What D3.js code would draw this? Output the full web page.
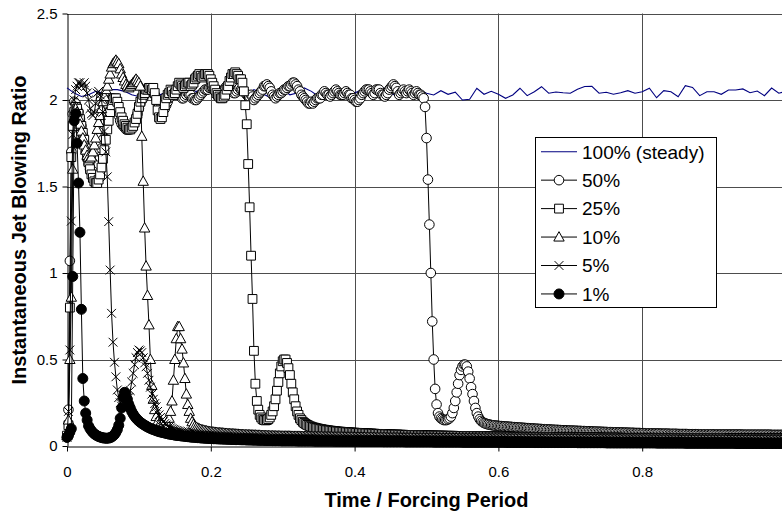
<!DOCTYPE html>
<html><head><meta charset="utf-8">
<script src="https://cdn.jsdelivr.net/npm/d3@7"></script>
<style>html,body{margin:0;padding:0;background:#fff;overflow:hidden}</style>
</head><body><svg id="chart" width="782" height="514"></svg>
<script>
// ---------------- DATA ----------------
const seriesNames = ["100% (steady)", "50%", "25%", "10%", "5%", "1%"];
const xTicks = [0, 0.2, 0.4, 0.6, 0.8];
const yTicks = [0, 0.5, 1, 1.5, 2, 2.5];
const xTitle = "Time / Forcing Period";
const yTitle = "Instantaneous Jet Blowing Ratio";
const steadyStep = 0.01;   // time step of the steady series
const markerStep = 0.002;  // time step of the pulsed series

const steady = [
2.07,2.04,2.02,2.03,2.05,2.04,2.06,2.06,2.05,2.03,
2.02,2.04,2.06,2.03,2.05,2.07,2.04,2.03,2.05,2.06,
2.04,2.02,2.05,2.07,2.04,2.03,2.06,2.04,2.02,2.05,
2.06,2.03,2.04,2.07,2.05,2.02,2.04,2.06,2.03,2.05,
2.04,2.06,2.03,2.05,2.07,2.04,2.02,2.05,2.04,2.06,
2.039,2.029,2.054,2.033,2.045,2.0,2.004,2.068,2.033,2.05,
2.033,2.01,2.029,2.068,2.025,2.048,2.077,2.039,2.046,2.042,
2.039,2.062,2.078,2.079,2.039,2.045,2.033,2.042,2.054,2.039,
2.048,2.068,2.013,2.054,2.048,2.019,2.083,2.073,2.025,2.048,
2.048,2.033,2.058,2.058,2.064,2.042,2.052,2.025,2.069,2.039,
2.05];

const pulse50 = [
0.05,0.21,1.07,1.7,1.92,1.99,1.98,1.95,1.93,1.89,
1.85,1.8,1.75,1.7,1.66,1.63,1.6,1.58,1.57,1.57,
1.58,1.6,1.63,1.67,1.72,1.77,1.83,1.88,1.93,1.96,
1.99,2.01,2.01,1.99,1.97,1.94,1.91,1.88,1.86,1.85,
1.84,1.83,1.83,1.83,1.83,1.84,1.85,1.87,1.89,1.92,
1.95,1.98,2.0,2.01,2.03,2.04,2.05,2.06,2.06,2.06,
2.05,2.03,2.01,1.98,1.96,1.94,1.93,1.94,1.95,1.97,
1.99,2.01,2.02,2.03,2.03,2.04,2.05,2.03,2.03,2.02,
2.01,2.01,2.02,2.03,2.04,2.03,2.03,2.01,2.01,2.0,
2.0,2.01,2.02,2.03,2.04,2.05,2.06,2.06,2.06,2.07,
2.07,2.07,2.06,2.05,2.04,2.03,2.03,2.04,2.05,2.06,
2.07,2.08,2.08,2.07,2.06,2.05,2.04,2.04,2.05,2.06,
2.07,2.06,2.06,2.05,2.04,2.03,2.02,2.02,2.03,2.02,
2.0,2.01,2.02,2.03,2.04,2.05,2.06,2.08,2.08,2.09,
2.08,2.07,2.05,2.03,2.02,2.01,2.02,2.03,2.04,2.04,
2.05,2.06,2.06,2.07,2.08,2.08,2.09,2.1,2.1,2.09,
2.08,2.06,2.05,2.03,2.02,2.01,2.0,1.99,1.98,1.98,
1.99,1.98,1.99,2.0,2.01,2.01,2.01,2.03,2.03,2.05,
2.04,2.03,2.03,2.02,2.03,2.04,2.05,2.06,2.05,2.04,
2.03,2.03,2.03,2.04,2.05,2.04,2.03,2.03,2.01,2.01,
2.0,1.99,1.99,2.0,2.01,2.03,2.04,2.05,2.06,2.06,
2.06,2.05,2.04,2.03,2.04,2.06,2.06,2.06,2.04,2.03,
2.03,2.02,2.03,2.04,2.06,2.07,2.08,2.09,2.08,2.07,
2.05,2.03,2.04,2.05,2.06,2.05,2.04,2.05,2.06,2.05,
2.04,2.03,2.04,2.05,2.04,2.03,2.03,2.02,2.01,1.96,
1.78,1.54,1.28,1.0,0.72,0.5,0.33,0.24,0.19,0.17,
0.16,0.155,0.15,0.15,0.15,0.155,0.16,0.17,0.19,0.22,
0.26,0.31,0.36,0.41,0.44,0.46,0.47,0.47,0.46,0.43,
0.39,0.34,0.3,0.26,0.22,0.19,0.17,0.155,0.145,0.138,
0.133,0.13,0.127,0.125,0.123,0.121,0.12,0.119,0.118,0.117,
0.116,0.115,0.115,0.114,0.113,0.113,0.112,0.111,0.111,0.110,
0.109,0.109,0.108,0.107,0.107,0.106,0.106,0.105,0.104,0.104,
0.103,0.103,0.102,0.101,0.101,0.100,0.100,0.099,0.099,0.098,
0.098,0.097,0.097,0.096,0.096,0.095,0.095,0.094,0.094,0.093,
0.093,0.093,0.092,0.092,0.091,0.091,0.090,0.090,0.090,0.089,
0.089,0.089,0.088,0.088,0.088,0.087,0.087,0.087,0.086,0.086,
0.086,0.085,0.085,0.085,0.084,0.084,0.084,0.083,0.083,0.083,
0.082,0.082,0.082,0.081,0.081,0.081,0.080,0.080,0.080,0.080,
0.079,0.079,0.079,0.078,0.078,0.078,0.078,0.077,0.077,0.077,
0.077,0.076,0.076,0.076,0.076,0.075,0.075,0.075,0.075,0.074,
0.074,0.074,0.074,0.073,0.073,0.073,0.073,0.073,0.072,0.072,
0.072,0.072,0.072,0.071,0.071,0.071,0.071,0.071,0.071,0.070,
0.070,0.070,0.070,0.070,0.070,0.069,0.069,0.069,0.069,0.069,
0.069,0.069,0.068,0.068,0.068,0.068,0.068,0.068,0.068,0.068,
0.067,0.067,0.067,0.067,0.067,0.067,0.067,0.067,0.067,0.067,
0.066,0.066,0.066,0.066,0.066,0.066,0.066,0.066,0.066,0.066,
0.066,0.066,0.066,0.066,0.066,0.066,0.066,0.066,0.066,0.066,
0.065,0.065,0.065,0.065,0.065,0.065,0.065,0.065,0.065,0.065,
0.065,0.065,0.065,0.065,0.065,0.065,0.065,0.065,0.065,0.065,
0.064,0.064,0.064,0.064,0.064,0.064,0.064,0.064,0.064,0.064,
0.064];

const pulse25 = [
0.06,0.12,0.8,1.67,1.85,1.93,1.96,1.95,1.92,1.89,
1.85,1.81,1.77,1.72,1.68,1.64,1.6,1.57,1.55,1.53,
1.52,1.52,1.54,1.57,1.61,1.66,1.71,1.77,1.83,1.88,
1.93,1.97,2.0,2.01,2.01,1.99,1.96,1.93,1.9,1.88,
1.86,1.85,1.84,1.83,1.83,1.84,1.85,1.87,1.89,1.92,
1.96,1.99,2.01,2.03,2.04,2.06,2.06,2.07,2.07,2.06,
2.07,2.04,2.0,1.94,1.9,1.89,1.9,1.93,1.97,2.01,
2.03,2.04,2.06,2.05,2.03,2.04,2.06,2.08,2.1,2.09,
2.08,2.07,2.08,2.09,2.1,2.1,2.08,2.09,2.1,2.12,
2.13,2.14,2.15,2.14,2.13,2.14,2.15,2.15,2.15,2.14,
2.12,2.1,2.08,2.06,2.04,2.03,2.02,2.01,2.01,2.02,
2.03,2.06,2.08,2.11,2.13,2.15,2.15,2.16,2.15,2.14,
2.12,2.12,2.1,2.05,1.97,1.86,1.63,1.38,1.1,0.85,
0.55,0.36,0.26,0.21,0.18,0.165,0.155,0.15,0.148,0.15,
0.155,0.165,0.18,0.2,0.23,0.27,0.32,0.37,0.42,0.46,
0.49,0.5,0.5,0.48,0.45,0.41,0.36,0.31,0.27,0.23,
0.2,0.18,0.16,0.15,0.14,0.133,0.127,0.122,0.118,0.114,
0.111,0.108,0.106,0.104,0.102,0.1,0.098,0.097,0.095,0.094,
0.092,0.091,0.09,0.089,0.088,0.087,0.086,0.085,0.084,0.083,
0.083,0.082,0.081,0.081,0.08,0.079,0.079,0.078,0.078,0.077,
0.077,0.076,0.076,0.075,0.075,0.074,0.074,0.074,0.073,0.073,
0.072,0.072,0.072,0.071,0.071,0.070,0.070,0.070,0.069,0.069,
0.069,0.068,0.068,0.068,0.067,0.067,0.067,0.066,0.066,0.066,
0.066,0.065,0.065,0.065,0.065,0.064,0.064,0.064,0.064,0.063,
0.063,0.063,0.063,0.063,0.062,0.062,0.062,0.062,0.062,0.061,
0.061,0.061,0.061,0.061,0.061,0.061,0.060,0.060,0.060,0.060,
0.060,0.060,0.060,0.059,0.059,0.059,0.059,0.059,0.059,0.059,
0.058,0.058,0.058,0.058,0.058,0.058,0.058,0.057,0.057,0.057,
0.057,0.057,0.057,0.057,0.057,0.056,0.056,0.056,0.056,0.056,
0.056,0.056,0.056,0.055,0.055,0.055,0.055,0.055,0.055,0.055,
0.054,0.054,0.054,0.054,0.054,0.054,0.054,0.054,0.054,0.054,
0.053,0.053,0.053,0.053,0.053,0.053,0.053,0.053,0.053,0.053,
0.052,0.052,0.052,0.052,0.052,0.052,0.052,0.052,0.052,0.052,
0.051,0.051,0.051,0.051,0.051,0.051,0.051,0.051,0.051,0.051,
0.050,0.050,0.050,0.050,0.050,0.050,0.050,0.050,0.050,0.050,
0.050,0.050,0.050,0.050,0.050,0.050,0.050,0.050,0.050,0.050,
0.049,0.049,0.049,0.049,0.049,0.049,0.049,0.049,0.049,0.049,
0.049,0.049,0.048,0.048,0.048,0.048,0.048,0.048,0.048,0.048,
0.048,0.048,0.048,0.048,0.048,0.048,0.047,0.047,0.047,0.047,
0.047,0.047,0.047,0.047,0.047,0.047,0.047,0.047,0.047,0.047,
0.047,0.047,0.047,0.047,0.047,0.047,0.047,0.047,0.047,0.047,
0.046,0.046,0.046,0.046,0.046,0.046,0.046,0.046,0.046,0.046,
0.046,0.046,0.046,0.046,0.046,0.045,0.045,0.045,0.045,0.045,
0.045,0.045,0.045,0.045,0.045,0.045,0.045,0.045,0.045,0.045,
0.045,0.045,0.045,0.045,0.045,0.045,0.045,0.045,0.045,0.045,
0.045,0.045,0.045,0.045,0.045,0.045,0.045,0.045,0.045,0.045,
0.044,0.044,0.044,0.044,0.044,0.044,0.044,0.044,0.044,0.044,
0.044,0.044,0.044,0.044,0.044,0.044,0.044,0.044,0.044,0.044,
0.043,0.043,0.043,0.043,0.043,0.043,0.043,0.043,0.043,0.043,
0.043,0.043,0.043,0.043,0.043,0.043,0.043,0.043,0.043,0.043,
0.043];

const pulse10 = [
0.06,0.15,0.5,0.86,1.6,1.9,1.95,1.93,1.9,1.86,
1.82,1.78,1.74,1.71,1.68,1.67,1.66,1.67,1.7,1.74,
1.78,1.83,1.87,1.91,1.95,1.99,2.02,2.06,2.08,2.12,
2.15,2.19,2.21,2.22,2.23,2.22,2.21,2.18,2.15,2.13,
2.11,2.09,2.08,2.07,2.08,2.09,2.1,2.11,2.12,2.11,
2.1,2.08,1.79,1.53,1.26,1.04,0.87,0.7,0.5,0.35,
0.27,0.21,0.17,0.14,0.12,0.105,0.095,0.092,0.095,0.105,
0.125,0.16,0.2,0.26,0.38,0.5,0.62,0.69,0.69,0.62,
0.56,0.48,0.39,0.3,0.24,0.2,0.16,0.14,0.125,0.115,
0.108,0.103,0.099,0.096,0.093,0.091,0.089,0.087,0.085,0.083,
0.082,0.081,0.080,0.079,0.078,0.077,0.076,0.076,0.075,0.074,
0.073,0.073,0.072,0.071,0.071,0.070,0.070,0.069,0.068,0.068,
0.067,0.067,0.066,0.066,0.065,0.065,0.065,0.064,0.064,0.063,
0.063,0.063,0.062,0.062,0.062,0.061,0.061,0.061,0.060,0.060,
0.060,0.059,0.059,0.059,0.059,0.058,0.058,0.058,0.058,0.057,
0.057,0.057,0.057,0.057,0.057,0.057,0.056,0.056,0.056,0.056,
0.056,0.056,0.056,0.055,0.055,0.055,0.055,0.055,0.055,0.055,
0.054,0.054,0.054,0.054,0.054,0.054,0.054,0.054,0.053,0.053,
0.053,0.053,0.053,0.053,0.053,0.052,0.052,0.052,0.052,0.052,
0.052,0.052,0.052,0.051,0.051,0.051,0.051,0.051,0.051,0.051,
0.050,0.050,0.050,0.050,0.050,0.050,0.050,0.050,0.049,0.049,
0.049,0.049,0.049,0.049,0.048,0.048,0.048,0.048,0.048,0.048,
0.048,0.048,0.048,0.047,0.047,0.047,0.047,0.047,0.047,0.047,
0.047,0.046,0.046,0.046,0.046,0.046,0.046,0.046,0.046,0.046,
0.045,0.045,0.045,0.045,0.045,0.045,0.045,0.045,0.045,0.045,
0.045,0.045,0.045,0.045,0.045,0.045,0.044,0.044,0.044,0.044,
0.044,0.044,0.044,0.044,0.044,0.044,0.044,0.044,0.044,0.044,
0.044,0.044,0.043,0.043,0.043,0.043,0.043,0.043,0.043,0.043,
0.043,0.043,0.043,0.043,0.043,0.043,0.042,0.042,0.042,0.042,
0.042,0.042,0.042,0.042,0.042,0.042,0.042,0.042,0.042,0.042,
0.042,0.042,0.042,0.042,0.042,0.042,0.041,0.041,0.041,0.041,
0.041,0.041,0.041,0.041,0.041,0.041,0.041,0.041,0.041,0.041,
0.041,0.040,0.040,0.040,0.040,0.040,0.040,0.040,0.040,0.040,
0.040,0.040,0.040,0.040,0.040,0.040,0.039,0.039,0.039,0.039,
0.039,0.039,0.039,0.039,0.039,0.039,0.039,0.039,0.039,0.039,
0.039,0.039,0.039,0.039,0.039,0.038,0.038,0.038,0.038,0.038,
0.038,0.038,0.038,0.038,0.038,0.038,0.038,0.038,0.038,0.038,
0.037,0.037,0.037,0.037,0.037,0.037,0.037,0.037,0.037,0.037,
0.037,0.037,0.037,0.037,0.037,0.036,0.036,0.036,0.036,0.036,
0.036,0.036,0.036,0.036,0.036,0.036,0.036,0.036,0.036,0.036,
0.036,0.036,0.036,0.036,0.036,0.035,0.035,0.035,0.035,0.035,
0.035,0.035,0.035,0.035,0.035,0.035,0.035,0.035,0.035,0.035,
0.035,0.035,0.035,0.035,0.035,0.034,0.034,0.034,0.034,0.034,
0.034,0.034,0.034,0.034,0.034,0.034,0.034,0.034,0.034,0.034,
0.034,0.034,0.034,0.034,0.034,0.034,0.034,0.034,0.034,0.034,
0.034,0.034,0.034,0.034,0.034,0.034,0.034,0.034,0.034,0.034,
0.033,0.033,0.033,0.033,0.033,0.033,0.033,0.033,0.033,0.033,
0.033,0.033,0.033,0.033,0.033,0.033,0.033,0.033,0.033,0.033,
0.033,0.033,0.033,0.033,0.033,0.032,0.032,0.032,0.032,0.032,
0.032,0.032,0.032,0.032,0.032,0.032,0.032,0.032,0.032,0.032,
0.032];

const pulse5 = [
0.05,0.2,0.555,1.3,1.8,2.0,2.06,2.08,2.1,2.1,
2.08,2.09,2.1,2.08,2.04,2.0,1.95,1.92,1.91,1.93,
1.98,2.04,2.05,2.03,2.0,1.93,1.82,1.7,1.556,1.297,
1.017,0.767,0.6,0.484,0.4,0.324,0.28,0.25,0.23,0.22,
0.22,0.23,0.25,0.28,0.32,0.37,0.42,0.47,0.51,0.54,
0.555,0.55,0.54,0.51,0.48,0.458,0.42,0.38,0.34,0.3,
0.27,0.245,0.227,0.2,0.18,0.165,0.15,0.14,0.13,0.122,
0.115,0.11,0.105,0.1,0.096,0.093,0.09,0.087,0.085,0.083,
0.081,0.079,0.077,0.075,0.074,0.072,0.071,0.07,0.069,0.068,
0.067,0.066,0.065,0.064,0.063,0.062,0.062,0.061,0.06,0.06,
0.059,0.058,0.058,0.057,0.057,0.056,0.056,0.055,0.055,0.054,
0.054,0.054,0.053,0.053,0.052,0.052,0.052,0.051,0.051,0.051,
0.050,0.050,0.050,0.049,0.049,0.049,0.049,0.048,0.048,0.048,
0.048,0.047,0.047,0.047,0.047,0.046,0.046,0.046,0.046,0.046,
0.045,0.045,0.045,0.045,0.045,0.044,0.044,0.044,0.044,0.044,
0.043,0.043,0.043,0.043,0.043,0.043,0.043,0.043,0.043,0.043,
0.042,0.042,0.042,0.042,0.042,0.042,0.042,0.042,0.042,0.042,
0.041,0.041,0.041,0.041,0.041,0.041,0.041,0.041,0.041,0.041,
0.040,0.040,0.040,0.040,0.040,0.040,0.040,0.040,0.040,0.040,
0.039,0.039,0.039,0.039,0.039,0.039,0.039,0.039,0.039,0.039,
0.039,0.039,0.039,0.039,0.039,0.038,0.038,0.038,0.038,0.038,
0.038,0.038,0.038,0.038,0.038,0.038,0.038,0.038,0.038,0.038,
0.037,0.037,0.037,0.037,0.037,0.037,0.037,0.037,0.037,0.037,
0.037,0.037,0.037,0.037,0.037,0.036,0.036,0.036,0.036,0.036,
0.036,0.036,0.036,0.036,0.036,0.036,0.036,0.036,0.036,0.036,
0.036,0.036,0.036,0.036,0.036,0.035,0.035,0.035,0.035,0.035,
0.035,0.035,0.035,0.035,0.035,0.035,0.035,0.035,0.035,0.035,
0.034,0.034,0.034,0.034,0.034,0.034,0.034,0.034,0.034,0.034,
0.034,0.034,0.034,0.034,0.034,0.033,0.033,0.033,0.033,0.033,
0.033,0.033,0.033,0.033,0.033,0.033,0.033,0.033,0.033,0.033,
0.033,0.033,0.033,0.033,0.033,0.032,0.032,0.032,0.032,0.032,
0.032,0.032,0.032,0.032,0.032,0.032,0.032,0.032,0.032,0.032,
0.031,0.031,0.031,0.031,0.031,0.031,0.031,0.031,0.031,0.031,
0.031,0.031,0.031,0.031,0.031,0.030,0.030,0.030,0.030,0.030,
0.030,0.030,0.030,0.030,0.030,0.030,0.030,0.030,0.030,0.030,
0.030,0.030,0.030,0.030,0.030,0.030,0.030,0.030,0.030,0.030,
0.029,0.029,0.029,0.029,0.029,0.029,0.029,0.029,0.029,0.029,
0.029,0.029,0.029,0.029,0.029,0.029,0.029,0.029,0.029,0.029,
0.028,0.028,0.028,0.028,0.028,0.028,0.028,0.028,0.028,0.028,
0.028,0.028,0.028,0.028,0.028,0.028,0.028,0.028,0.028,0.028,
0.028,0.028,0.028,0.028,0.028,0.028,0.028,0.028,0.028,0.028,
0.027,0.027,0.027,0.027,0.027,0.027,0.027,0.027,0.027,0.027,
0.027,0.027,0.027,0.027,0.027,0.027,0.027,0.027,0.027,0.027,
0.026,0.026,0.026,0.026,0.026,0.026,0.026,0.026,0.026,0.026,
0.026,0.026,0.026,0.026,0.026,0.026,0.026,0.026,0.026,0.026,
0.026,0.026,0.026,0.026,0.026,0.026,0.026,0.026,0.026,0.026,
0.025,0.025,0.025,0.025,0.025,0.025,0.025,0.025,0.025,0.025,
0.025,0.025,0.025,0.025,0.025,0.025,0.025,0.025,0.025,0.025,
0.024,0.024,0.024,0.024,0.024,0.024,0.024,0.024,0.024,0.024,
0.024,0.024,0.024,0.024,0.024,0.024,0.024,0.024,0.024,0.024,
0.024];

const pulse1 = [
0.05,0.06,0.08,0.1,0.98,1.88,1.92,1.75,1.52,1.235,
0.79,0.39,0.26,0.19,0.15,0.116,0.1,0.088,0.078,0.07,
0.064,0.059,0.055,0.052,0.049,0.047,0.046,0.045,0.045,0.046,
0.048,0.052,0.058,0.066,0.078,0.095,0.12,0.16,0.22,0.28,
0.31,0.3,0.27,0.24,0.22,0.2,0.185,0.172,0.161,0.152,
0.144,0.137,0.131,0.125,0.12,0.115,0.11,0.106,0.102,0.098,
0.095,0.092,0.089,0.086,0.083,0.081,0.079,0.077,0.075,0.073,
0.071,0.069,0.068,0.066,0.065,0.063,0.062,0.061,0.06,0.059,
0.058,0.057,0.056,0.055,0.054,0.053,0.052,0.051,0.051,0.05,
0.049,0.048,0.048,0.047,0.046,0.046,0.045,0.045,0.044,0.044,
0.043,0.043,0.042,0.042,0.042,0.041,0.041,0.041,0.040,0.040,
0.040,0.039,0.039,0.039,0.038,0.038,0.038,0.037,0.037,0.037,
0.037,0.036,0.036,0.036,0.036,0.035,0.035,0.035,0.035,0.034,
0.034,0.034,0.034,0.033,0.033,0.033,0.033,0.033,0.032,0.032,
0.032,0.032,0.032,0.031,0.031,0.031,0.031,0.031,0.031,0.030,
0.030,0.030,0.030,0.030,0.030,0.030,0.030,0.030,0.030,0.030,
0.029,0.029,0.029,0.029,0.029,0.029,0.029,0.029,0.029,0.029,
0.029,0.029,0.028,0.028,0.028,0.028,0.028,0.028,0.028,0.028,
0.028,0.028,0.028,0.028,0.028,0.028,0.027,0.027,0.027,0.027,
0.027,0.027,0.027,0.027,0.027,0.027,0.027,0.027,0.027,0.027,
0.027,0.027,0.027,0.027,0.027,0.026,0.026,0.026,0.026,0.026,
0.026,0.026,0.026,0.026,0.026,0.026,0.026,0.026,0.026,0.026,
0.025,0.025,0.025,0.025,0.025,0.025,0.025,0.025,0.025,0.025,
0.025,0.025,0.025,0.025,0.025,0.024,0.024,0.024,0.024,0.024,
0.024,0.024,0.024,0.024,0.024,0.024,0.024,0.024,0.024,0.024,
0.024,0.024,0.024,0.024,0.024,0.023,0.023,0.023,0.023,0.023,
0.023,0.023,0.023,0.023,0.023,0.023,0.023,0.023,0.023,0.023,
0.023,0.023,0.023,0.023,0.023,0.022,0.022,0.022,0.022,0.022,
0.022,0.022,0.022,0.022,0.022,0.022,0.022,0.022,0.022,0.022,
0.022,0.022,0.022,0.022,0.022,0.022,0.022,0.022,0.022,0.022,
0.022,0.022,0.022,0.022,0.022,0.021,0.021,0.021,0.021,0.021,
0.021,0.021,0.021,0.021,0.021,0.021,0.021,0.021,0.021,0.021,
0.021,0.021,0.021,0.021,0.021,0.020,0.020,0.020,0.020,0.020,
0.020,0.020,0.020,0.020,0.020,0.020,0.020,0.020,0.020,0.020,
0.020,0.020,0.020,0.020,0.020,0.020,0.020,0.020,0.020,0.020,
0.020,0.020,0.020,0.020,0.020,0.019,0.019,0.019,0.019,0.019,
0.019,0.019,0.019,0.019,0.019,0.019,0.019,0.019,0.019,0.019,
0.019,0.019,0.019,0.019,0.019,0.018,0.018,0.018,0.018,0.018,
0.018,0.018,0.018,0.018,0.018,0.018,0.018,0.018,0.018,0.018,
0.018,0.018,0.018,0.018,0.018,0.018,0.018,0.018,0.018,0.018,
0.018,0.018,0.018,0.018,0.018,0.018,0.018,0.018,0.018,0.018,
0.017,0.017,0.017,0.017,0.017,0.017,0.017,0.017,0.017,0.017,
0.017,0.017,0.017,0.017,0.017,0.017,0.017,0.017,0.017,0.017,
0.016,0.016,0.016,0.016,0.016,0.016,0.016,0.016,0.016,0.016,
0.016,0.016,0.016,0.016,0.016,0.016,0.016,0.016,0.016,0.016,
0.016,0.016,0.016,0.016,0.016,0.016,0.016,0.016,0.016,0.016,
0.016,0.016,0.016,0.016,0.016,0.015,0.015,0.015,0.015,0.015,
0.015,0.015,0.015,0.015,0.015,0.015,0.015,0.015,0.015,0.015,
0.015,0.015,0.015,0.015,0.015,0.015,0.015,0.015,0.015,0.015,
0.015,0.015,0.015,0.015,0.015,0.015,0.015,0.015,0.015,0.015,
0.015];

// ---------------- DRAWING ----------------
const FONT = "'Liberation Sans', Arial, Helvetica, sans-serif";
const svg = d3.select("#chart");
const X0 = 67, X1 = 786, Y0 = 446, Y1 = 13.5;
const x = d3.scaleLinear().domain([0, 1]).range([X0, X1]);
const y = d3.scaleLinear().domain([0, 2.5]).range([Y0, Y1]);
const gridColor = "#4d4d4d";

svg.append("rect").attr("width", 782).attr("height", 514).attr("fill", "#fff");

// gridlines
svg.append("g").selectAll("line").data(yTicks.filter(d => d > 0)).join("line")
  .attr("x1", X0).attr("x2", X1)
  .attr("y1", d => Math.round(y(d)) + 0.5).attr("y2", d => Math.round(y(d)) + 0.5)
  .attr("stroke", gridColor).attr("stroke-width", 1);
svg.append("g").selectAll("line").data(xTicks.filter(d => d > 0)).join("line")
  .attr("y1", Y1).attr("y2", Y0)
  .attr("x1", d => Math.round(x(d)) + 0.5).attr("x2", d => Math.round(x(d)) + 0.5)
  .attr("stroke", gridColor).attr("stroke-width", 1);

// axes
const yAxis = d3.axisLeft(y).tickValues(yTicks).tickFormat(d => String(d))
  .tickSize(5).tickSizeOuter(0).tickPadding(5);
const gy = svg.append("g").attr("transform", `translate(${X0 + 0.5},0)`).call(yAxis);
gy.attr("font-size", 15).attr("font-family", FONT);
gy.selectAll("text").attr("fill", "#000");
gy.selectAll("line,path").attr("stroke", "#000");

const xAxis = d3.axisBottom(x).tickValues(xTicks).tickFormat(d => String(d))
  .tickSize(5).tickSizeOuter(0).tickPadding(15);
const gx = svg.append("g").attr("transform", `translate(0,${Y0 + 0.5})`).call(xAxis);
gx.attr("font-size", 15).attr("font-family", FONT);
gx.selectAll("text").attr("fill", "#000");
gx.selectAll("line,path").attr("stroke", "#000");

// axis titles
svg.append("text").attr("x", (X0 + X1) / 2).attr("y", 507)
  .attr("text-anchor", "middle").attr("font-family", FONT)
  .attr("font-size", 20).attr("font-weight", "bold").text(xTitle);
svg.append("text").attr("transform", "translate(26,230) rotate(-90)")
  .attr("text-anchor", "middle").attr("font-family", FONT)
  .attr("font-size", 20).attr("font-weight", "bold").text(yTitle);

// marker shapes
const markerPath = {
  circle: "M4.8,0A4.8,4.8 0 1,1 -4.8,0A4.8,4.8 0 1,1 4.8,0Z",
  square: "M-4.4,-4.4H4.4V4.4H-4.4Z",
  triangle: "M0,-5.4L5.2,4H-5.2Z",
  cross: "M-4.4,-4.4L4.4,4.4M-4.4,4.4L4.4,-4.4",
  dot: "M5,0A5,5 0 1,1 -5,0A5,5 0 1,1 5,0Z"
};
const markerFill = { circle: "#fff", square: "#fff", triangle: "#fff", cross: "none", dot: "#000" };

const pulsed = [
  { name: seriesNames[1], values: pulse50, marker: "circle" },
  { name: seriesNames[2], values: pulse25, marker: "square" },
  { name: seriesNames[3], values: pulse10, marker: "triangle" },
  { name: seriesNames[4], values: pulse5, marker: "cross" },
  { name: seriesNames[5], values: pulse1, marker: "dot" }
];

const plot = svg.append("g");
const line = d3.line().x(d => x(d.t)).y(d => y(d.v));
const steadyPts = steady.map((v, i) => ({ t: i * steadyStep, v }));
plot.append("path").datum(steadyPts).attr("d", line)
  .attr("fill", "none").attr("stroke", "#000080").attr("stroke-width", 1.1);

pulsed.forEach(s => {
  const pts = s.values.map((v, i) => ({ t: i * markerStep, v }));
  const g = plot.append("g");
  g.append("path").datum(pts).attr("d", line)
    .attr("fill", "none").attr("stroke", "#000").attr("stroke-width", 1);
  g.selectAll("path.m").data(pts).join("path").attr("class", "m")
    .attr("transform", d => `translate(${x(d.t)},${y(d.v)})`)
    .attr("d", markerPath[s.marker])
    .attr("fill", markerFill[s.marker]).attr("stroke", "#000").attr("stroke-width", 1);
});

// legend
const lg = svg.append("g");
lg.append("rect").attr("x", 535.5).attr("y", 137.5).attr("width", 181).attr("height", 170)
  .attr("fill", "#fff").attr("stroke", "#000").attr("stroke-width", 1);
seriesNames.forEach((name, i) => {
  const cy = 151.7 + i * 28.45;
  const row = lg.append("g");
  row.append("line").attr("x1", 541).attr("x2", 577).attr("y1", cy).attr("y2", cy)
    .attr("stroke", i === 0 ? "#000080" : "#000").attr("stroke-width", i === 0 ? 1.1 : 1);
  if (i > 0) {
    const m = pulsed[i - 1].marker;
    row.append("path").attr("transform", `translate(559,${cy})`).attr("d", markerPath[m])
      .attr("fill", markerFill[m]).attr("stroke", "#000").attr("stroke-width", 1);
  }
  row.append("text").attr("x", 582).attr("y", cy).attr("dy", "0.36em")
    .attr("font-family", FONT).attr("font-size", 19).attr("fill", "#000").text(name);
});
</script>
</body></html>
